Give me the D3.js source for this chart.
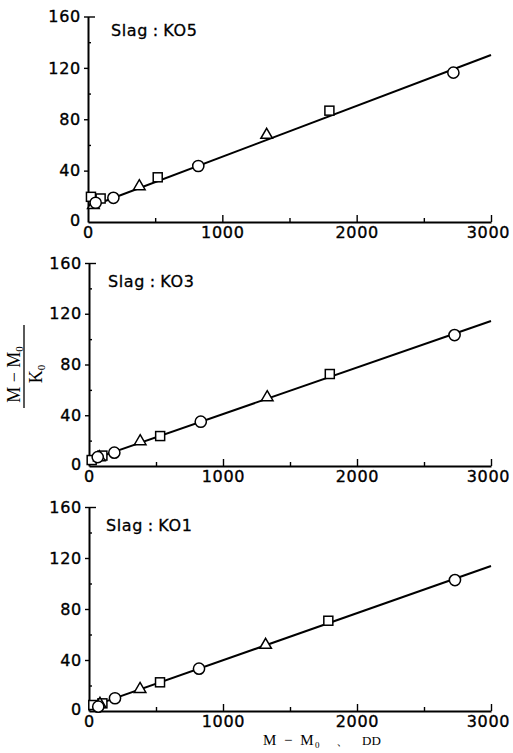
<!DOCTYPE html>
<html>
<head>
<meta charset="utf-8">
<script src="https://cdn.jsdelivr.net/npm/d3@7/dist/d3.min.js"></script>
<style>
  body { margin: 0; background: #fff; }
  svg { display: block; }
  .tick text { font-family: "DejaVu Sans", sans-serif; font-size: 16px; letter-spacing: 0.7px; fill: #000; stroke: #000; stroke-width: 0.35px; }
</style>
</head>
<body>
<svg id="chart" width="513" height="753"></svg>
<script>
// axis ticks
const xTicks = [0, 1000, 2000, 3000];
const xMinor = [500, 1500, 2500];
const yTicks = [0, 40, 80, 120, 160];
const yMinor = [20, 60, 100, 140];

// Slag KO5
const ko5CircleX = [57, 189, 821, 2720];
const ko5CircleY = [15, 18.8, 43.6, 116.3];
const ko5SquareX = [22, 94, 519, 1797];
const ko5SquareY = [19.6, 18.3, 34.8, 86.7];
const ko5TriX = [40, 382, 1330];
const ko5TriY = [13.6, 28.3, 68.3];
const ko5LineX = [94, 3000];
const ko5LineY = [15, 130];

// Slag KO3
const ko3CircleX = [65, 189, 834, 2728];
const ko3CircleY = [7, 10.5, 34.9, 103.2];
const ko3SquareX = [20, 100, 531, 1797];
const ko3SquareY = [4.7, 8.2, 23.6, 72.5];
const ko3TriX = [77, 382, 1330];
const ko3TriY = [7.3, 20, 54.6];
const ko3LineX = [20, 3000];
const ko3LineY = [5, 114.3];

// Slag KO1
const ko1CircleX = [69, 194, 821, 2731];
const ko1CircleY = [3.4, 10, 33.2, 102.7];
const ko1SquareX = [32, 100, 530, 1786];
const ko1SquareY = [4.7, 6, 22.5, 70.8];
const ko1TriX = [82, 381, 1318];
const ko1TriY = [6, 17.7, 52.3];
const ko1LineX = [30, 3000];
const ko1LineY = [4, 113.7];

const titles = ["Slag : KO5", "Slag : KO3", "Slag : KO1"];

const zip = (xs, ys) => xs.map((x, i) => [x, ys[i]]);

const panels = [
  { title: titles[0], left: 88, right: 491, top: 16.5, bottom: 222, titleX: 111, titleY: 36,
    circles: zip(ko5CircleX, ko5CircleY), squares: zip(ko5SquareX, ko5SquareY),
    tris: zip(ko5TriX, ko5TriY), line: zip(ko5LineX, ko5LineY) },
  { title: titles[1], left: 89, right: 491, top: 263, bottom: 466, titleX: 108, titleY: 287,
    circles: zip(ko3CircleX, ko3CircleY), squares: zip(ko3SquareX, ko3SquareY),
    tris: zip(ko3TriX, ko3TriY), line: zip(ko3LineX, ko3LineY) },
  { title: titles[2], left: 89, right: 491, top: 507, bottom: 711, titleX: 106, titleY: 531,
    circles: zip(ko1CircleX, ko1CircleY), squares: zip(ko1SquareX, ko1SquareY),
    tris: zip(ko1TriX, ko1TriY), line: zip(ko1LineX, ko1LineY) }
];

const svg = d3.select('#chart');
const fmt = d3.format('d');

panels.forEach(p => {
  const x = d3.scaleLinear().domain([0, 3000]).range([p.left, p.right]);
  const y = d3.scaleLinear().domain([0, 160]).range([p.bottom, p.top]);
  const g = svg.append('g');

  // minor ticks (inward)
  g.append('g')
    .attr('transform', `translate(0,${p.bottom})`)
    .call(d3.axisBottom(x).tickValues(xMinor).tickSize(-4).tickFormat(''))
    .call(a => a.select('.domain').remove());
  g.append('g')
    .attr('transform', `translate(${p.left},0)`)
    .call(d3.axisLeft(y).tickValues(yMinor).tickSize(-3).tickFormat(''))
    .call(a => a.select('.domain').remove());
  // top tick pointing in
  g.append('g')
    .attr('transform', `translate(${p.left},0)`)
    .call(d3.axisLeft(y).tickValues([160]).tickSize(-7).tickFormat(''))
    .call(a => a.select('.domain').remove());

  // main axes
  const xa = g.append('g')
    .attr('transform', `translate(0,${p.bottom})`)
    .call(d3.axisBottom(x).tickValues(xTicks).tickFormat(fmt).tickSize(-7).tickSizeOuter(0).tickPadding(5));
  xa.selectAll('.tick').filter(d => d === 0).select('line').remove();
  xa.selectAll('.tick').filter(d => d === 3000).select('text').attr('dx', -3);
  const ya = g.append('g')
    .attr('transform', `translate(${p.left},0)`)
    .call(d3.axisLeft(y).tickValues(yTicks).tickFormat(fmt).tickSize(4).tickSizeOuter(0).tickPadding(3));
  ya.selectAll('.tick').filter(d => d === 0).select('line').remove();
  ya.selectAll('.tick').filter(d => d === 0).select('text').attr('dy', '0.2em');
  g.selectAll('.domain').attr('stroke-width', 2);
  g.selectAll('.tick line').attr('stroke-width', 1.4);

  // fitted line
  g.append('path')
    .datum(p.line)
    .attr('d', d3.line().x(d => x(d[0])).y(d => y(d[1])))
    .attr('fill', 'none')
    .attr('stroke', '#000')
    .attr('stroke-width', 2);

  // markers
  g.selectAll('.sq').data(p.squares).enter().append('rect')
    .attr('x', d => x(d[0]) - 4.5).attr('y', d => y(d[1]) - 4.5)
    .attr('width', 9).attr('height', 9)
    .attr('fill', '#fff').attr('stroke', '#000').attr('stroke-width', 1.5);
  g.selectAll('.tri').data(p.tris).enter().append('path')
    .attr('d', d => {
      const cx = x(d[0]), cy = y(d[1]);
      return `M${cx},${cy - 6}L${cx + 5.8},${cy + 4}L${cx - 5.8},${cy + 4}Z`;
    })
    .attr('fill', '#fff').attr('stroke', '#000').attr('stroke-width', 1.5);
  g.selectAll('.ci').data(p.circles).enter().append('circle')
    .attr('cx', d => x(d[0])).attr('cy', d => y(d[1])).attr('r', 5.6)
    .attr('fill', '#fff').attr('stroke', '#000').attr('stroke-width', 1.5);

  // panel title
  g.append('text')
    .attr('x', p.titleX).attr('y', p.titleY)
    .attr('font-family', '"DejaVu Sans", sans-serif')
    .attr('font-size', 16)
    .attr('letter-spacing', '0.6px')
    .attr('word-spacing', '-1px')
    .attr('stroke', '#000').attr('stroke-width', 0.3)
    .text(p.title);
});

// y-axis label (fraction)
const yl = svg.append('g').attr('transform', 'translate(24,366.5) rotate(-90)')
  .attr('font-family', '"Liberation Serif", serif');
yl.append('line').attr('x1', -41.5).attr('x2', 41.5).attr('y1', 0).attr('y2', 0)
  .attr('stroke', '#000').attr('stroke-width', 1.3);
const num = yl.append('text').attr('x', -8).attr('y', -4).attr('text-anchor', 'middle').attr('font-size', 18);
num.append('tspan').text('M − M');
num.append('tspan').attr('font-size', 11).attr('dy', 3).text('0');
const den = yl.append('text').attr('x', -7.5).attr('y', 18).attr('text-anchor', 'middle').attr('font-size', 18);
den.append('tspan').text('K');
den.append('tspan').attr('font-size', 11).attr('dy', 3).text('0');

// x-axis label
const xl = svg.append('text').attr('y', 745).attr('font-family', '"Liberation Serif", serif').attr('font-size', 15);
xl.append('tspan').attr('x', 263).attr('letter-spacing', '2px').text('M − M');
xl.append('tspan').attr('x', 315).attr('dy', 3).attr('font-size', 9).text('0');
xl.append('tspan').attr('x', 336).attr('dy', -3).attr('font-size', 13).text('、');
xl.append('tspan').attr('x', 362).attr('font-size', 13).text('DD');
</script>
</body>
</html>
